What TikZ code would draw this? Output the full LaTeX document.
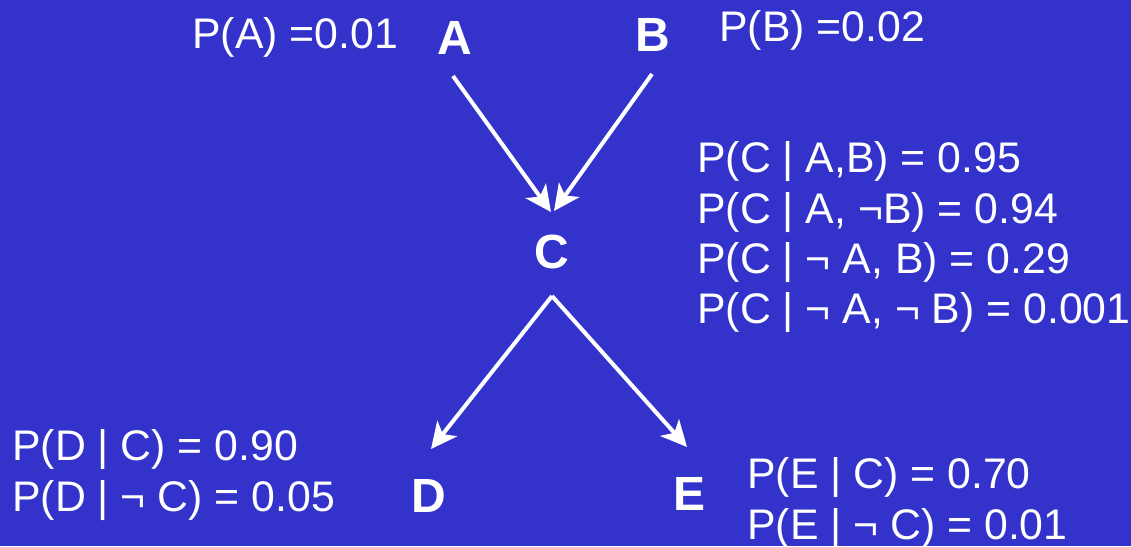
\documentclass[tikz,border=0pt]{standalone}
\usepackage{fontspec}
\setmainfont{Liberation Sans}
\usetikzlibrary{arrows.meta}
\definecolor{bgblue}{HTML}{3333CC}
\begin{document}
\begin{tikzpicture}[x=1pt,y=-1pt,
  prob/.style={anchor=base west,inner sep=0pt,text=white,font=\fontsize{42.8}{50}\selectfont},
  var/.style={anchor=base,inner sep=0pt,text=white,font=\fontsize{48}{50}\selectfont\bfseries},
  link/.style={white,line width=4pt,-{Stealth[length=26pt,width=25pt,inset=7pt]}}]
  % background and page size
  \fill[bgblue] (0,0) rectangle (1131,546);
  \useasboundingbox (0,0) rectangle (1131,546);

  % variables
  \node[var] (A) at (455,54) {A};
  \node[var] (B) at (653,51) {B};
  \node[var] (C) at (552,268) {C};
  \node[var] (D) at (429,512) {D};
  \node[var] (E) at (689,510) {E};

  % probability tables
  \node[prob] (pA) at (192,48) {P(A) =0.01};
  \node[prob] (pB) at (719,41) {P(B) =0.02};
  \node[prob] (pC1) at (697,172) {P(C | A,B) = 0.95};
  \node[prob] (pC2) at (697,223) {P(C | A, ¬B) = 0.94};
  \node[prob] (pC3) at (697,273) {P(C | ¬ A, B) = 0.29};
  \node[prob] (pC4) at (697,323) {P(C | ¬ A, ¬ B) = 0.001};
  \node[prob] (pD1) at (12,460) {P(D | C) = 0.90};
  \node[prob] (pD2) at (12,511) {P(D | ¬ C) = 0.05};
  \node[prob] (pE1) at (747,488) {P(E | C) = 0.70};
  \node[prob] (pE2) at (747,539) {P(E | ¬ C) = 0.01};

  % connector end points
  \coordinate (A-out) at (453,76);
  \coordinate (B-out) at (652,74);
  \coordinate (C-inA) at (551,212);
  \coordinate (C-inB) at (554,211);
  \coordinate (C-out) at (552,296);
  \coordinate (D-in) at (431,449);
  \coordinate (E-in) at (687,447);

  % edges
  \draw[link] (A-out) -- (C-inA);
  \draw[link] (B-out) -- (C-inB);
  \draw[link] (C-out) -- (D-in);
  \draw[link] (C-out) -- (E-in);
\end{tikzpicture}
\end{document}
